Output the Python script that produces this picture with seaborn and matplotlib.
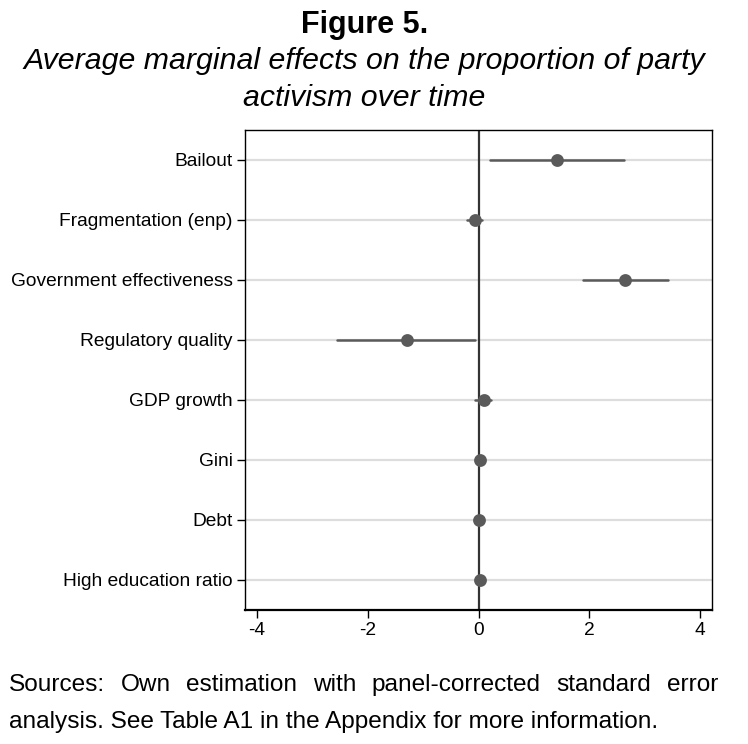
import matplotlib
matplotlib.use("Agg")
import matplotlib.pyplot as plt
import seaborn as sns
import pandas as pd

# ─── Data ─────────────────────────────────────────────────────────────────────
variables = ["Bailout", "Fragmentation (enp)", "Government effectiveness",
             "Regulatory quality", "GDP growth", "Gini", "Debt",
             "High education ratio"]
estimates = [1.42, -0.07, 2.65, -1.30, 0.10, 0.02, 0.00, 0.02]
ci_low    = [0.21, -0.20, 1.89, -2.55, -0.06, 0.00, -0.01, 0.00]
ci_high   = [2.63,  0.07, 3.42, -0.06,  0.22, 0.04,  0.01, 0.04]
x_ticks   = [-4, -2, 0, 2, 4]

title      = "Figure 5."
subtitle_1 = "Average marginal effects on the proportion of party"
subtitle_2 = "activism over time"
note_l1    = "Sources: Own estimation with panel-corrected standard error"
note_l2    = "analysis. See Table A1 in the Appendix for more information."

FONT = "Liberation Sans"
DOT  = "#5a5a5a"

sns.set_style("white")
plt.rcParams["font.family"] = [FONT, "DejaVu Sans"]
plt.rcParams["text.color"] = "black"

# long form: low / estimate / high per variable -> median = estimate, range = CI
df = pd.DataFrame({
    "variable": variables * 3,
    "effect":   ci_low + estimates + ci_high,
})

W, H = 748, 744
fig = plt.figure(figsize=(W / 100, H / 100), dpi=100)
ax = fig.add_axes([245.5 / W, 1 - 609.5 / H, 466 / W, 479.5 / H])

sns.pointplot(data=df, x="effect", y="variable", order=variables, orient="h",
              estimator="median", errorbar=lambda v: (v.min(), v.max()),
              linestyle="none", marker="o", markersize=7.2, color=DOT,
              err_kws={"linewidth": 1.8, "color": DOT}, capsize=0, ax=ax)

ax.axvline(0, color="#333333", lw=1.6, zorder=1.5)
ax.set_xlim(-4.21, 4.21)
ax.set_ylim(len(variables) - 0.5, -0.5)
ax.set_xticks(x_ticks)
ax.set_xticklabels([str(t) for t in x_ticks])
ax.set_xlabel(""); ax.set_ylabel("")

ax.yaxis.grid(True, color="#dddddd", lw=1.6)
ax.xaxis.grid(False)
ax.set_axisbelow(True)

for side in ["top", "right", "left"]:
    ax.spines[side].set_color("black")
    ax.spines[side].set_linewidth(1.0)
ax.spines["bottom"].set_color("black")
ax.spines["bottom"].set_linewidth(1.6)

ax.tick_params(axis="both", which="major", direction="out", length=6,
               width=1.0, color="black", labelsize=13.8, labelcolor="black",
               left=True, bottom=True, pad=3)

# ─── Titles ───────────────────────────────────────────────────────────────────
fig.text(0.487, 1 - 33 / H, title, ha="center", va="baseline",
         fontsize=22, fontweight="bold")
fig.text(0.487, 1 - 69 / H, subtitle_1, ha="center", va="baseline",
         fontsize=21.8, fontstyle="italic")
fig.text(0.487, 1 - 106 / H, subtitle_2, ha="center", va="baseline",
         fontsize=21.8, fontstyle="italic")


# ─── Justified source note ────────────────────────────────────────────────────
def justify_line(words, y, x0, x1, **kw):
    r = fig.canvas.get_renderer()
    texts = [fig.text(0, y, w, va="baseline", **kw) for w in words]
    widths = [t.get_window_extent(r).width / fig.bbox.width for t in texts]
    gap = (x1 - x0 - sum(widths)) / (len(words) - 1)
    x = x0
    for t, w in zip(texts, widths):
        t.set_x(x)
        x += w + gap


justify_line(note_l1.split(), 1 - 691 / H, 9 / W, 718 / W, fontsize=17.6)
fig.text(9 / W, 1 - 728 / H, note_l2, ha="left", va="baseline", fontsize=17.6)

fig.savefig("out.png", dpi=100)
